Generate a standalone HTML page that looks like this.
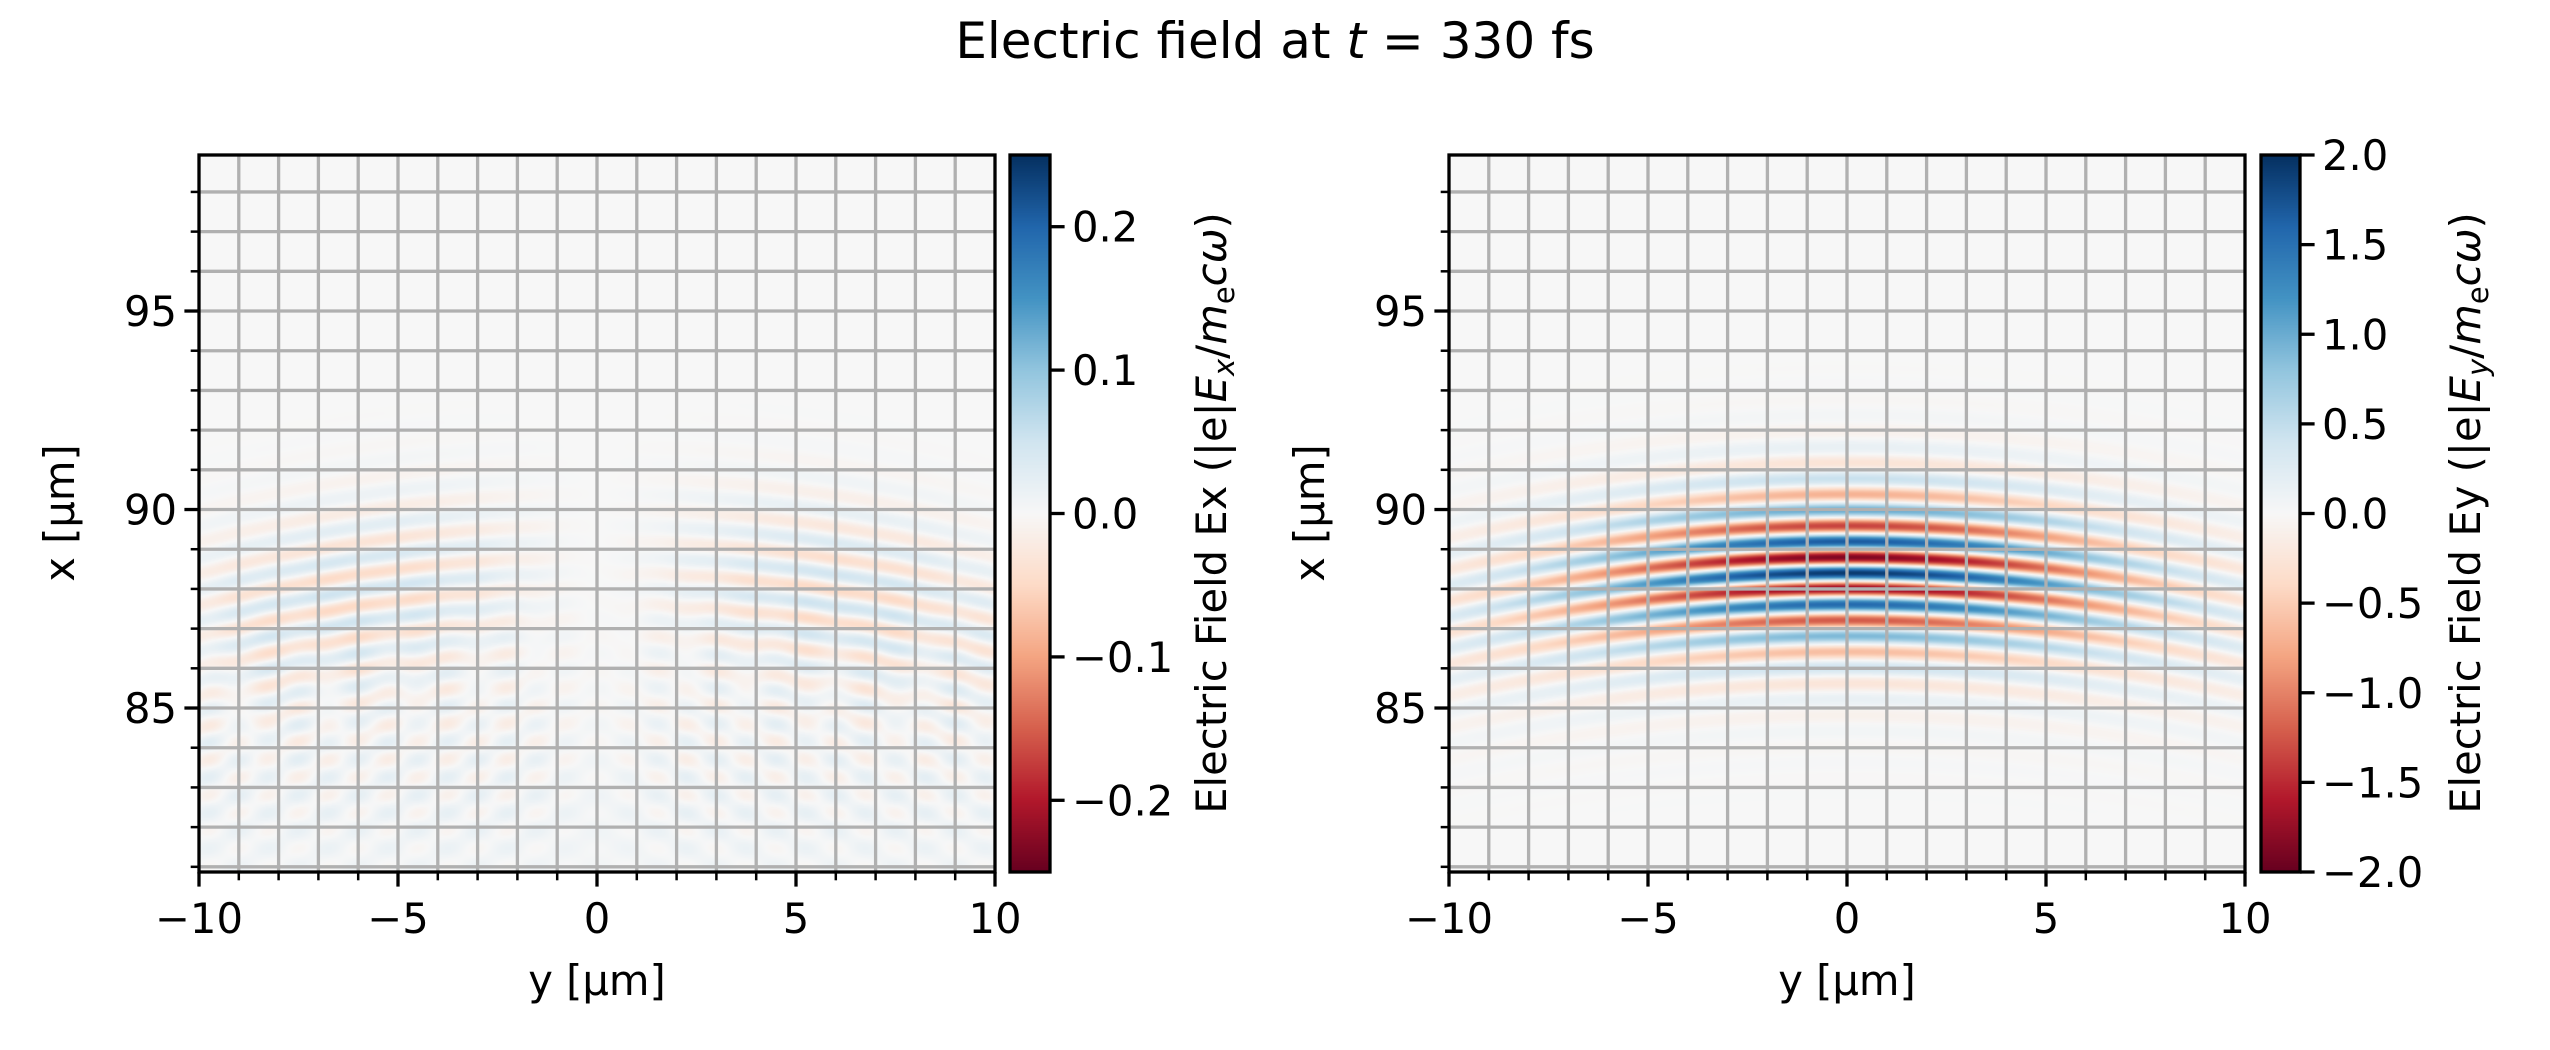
<!DOCTYPE html>
<html><head><meta charset="utf-8">
<style>
html,body{margin:0;padding:0;background:#fff;}
#wrap{position:relative;width:2550px;height:1050px;overflow:hidden;}
canvas{position:absolute;}
svg{position:absolute;left:0;top:0;}
text{font-family:"DejaVu Sans","Liberation Sans",sans-serif;fill:#000;}
</style></head><body>
<div id="wrap">
<canvas id="c1" width="796" height="717" style="left:199px;top:155px"></canvas>
<canvas id="c2" width="796" height="717" style="left:1449px;top:155px"></canvas>
<canvas id="cb1" width="40" height="717" style="left:1010px;top:155px"></canvas>
<canvas id="cb2" width="39" height="717" style="left:2261px;top:155px"></canvas>
<svg id="s" width="2550" height="1050" xmlns="http://www.w3.org/2000/svg"></svg>
</div>
<script>
var RdBu=[[103,0,31],[178,24,43],[214,96,77],[244,165,130],[253,219,199],[247,247,247],[209,229,240],[146,197,222],[67,147,195],[33,102,172],[5,48,97]];
function cmap(t){if(t<0)t=0;if(t>1)t=1;var f=t*10,i=Math.floor(f);if(i>=10)return RdBu[10];var u=f-i,a=RdBu[i],b=RdBu[i+1];return [a[0]+(b[0]-a[0])*u,a[1]+(b[1]-a[1])*u,a[2]+(b[2]-a[2])*u];}
function Y(px){return -10+px/39.8;}
function X(py){return 98.93-py/39.7;}
function Ey(x,y){var xp=x+0.011*y*y;var env=Math.exp(-Math.pow(y/6.5,2))*Math.exp(-Math.pow((xp-88.5)/1.8,2));
var tail=0.28*Math.exp(-Math.pow((xp-88.2)/2.8,2))*Math.exp(-Math.pow(y/12,2));
return (1.65*env+tail)*Math.cos(2*Math.PI*(xp-88.4)/0.8);}
function Ex(x,y){var xp=x+0.012*y*y;var s=Math.tanh(y/2.5);
var a=0.05*s*Math.exp(-Math.pow((xp-88.2)/2.3,2))*Math.exp(-Math.pow((Math.abs(y)-6)/5,2))*Math.cos(2*Math.PI*(xp-88)/0.8);
var ay=Math.abs(y);
var d=0.013*Math.exp(-Math.pow((x-84)/3,2))*(Math.cos(2*Math.PI*(x+0.6*ay)/0.9)+0.6*Math.cos(2*Math.PI*(x-0.6*ay)/0.9))*Math.min(1,ay/3+0.3);
var b=0.006*Math.exp(-Math.pow((x-82)/2,2));
return a+d+b;}
function fill(id,f,vmax){var c=document.getElementById(id),g=c.getContext('2d'),im=g.createImageData(796,717),D=im.data;
for(var j=0;j<717;j++){var x=X(j+0.5);for(var i=0;i<796;i++){var y=Y(i+0.5);var col=cmap((f(x,y)/vmax+1)/2);var k=4*(j*796+i);D[k]=col[0];D[k+1]=col[1];D[k+2]=col[2];D[k+3]=255;}}
g.putImageData(im,0,0);}
fill('c1',Ex,0.25);fill('c2',Ey,2);
function cb(id,w){var c=document.getElementById(id),g=c.getContext('2d');for(var j=0;j<717;j++){var col=cmap(1-j/716);g.fillStyle='rgb('+col.map(Math.round).join(',')+')';g.fillRect(0,j,w,1);}}
cb('cb1',40);cb('cb2',39);
var h='';
function L(x1,y1,x2,y2,c,w){h+='<line x1="'+x1+'" y1="'+y1+'" x2="'+x2+'" y2="'+y2+'" stroke="'+c+'" stroke-width="'+w+'"/>';}
function T(x,y,s,a,extra){h+='<text x="'+x+'" y="'+y+'" font-size="41.7" text-anchor="'+a+'" '+(extra||'')+'>'+s+'</text>';}
function axes(L0,cbx,cbw,lab,vmax,ticks,fmt,labx,sub){
 var T0=155,B=872,R=L0+796;
 for(var y=-9;y<=9;y++){var px=L0+(y+10)*39.8;L(px,T0,px,B,'#b0b0b0',3.3);}
 for(var x=81;x<=98;x++){var py=155+(98.93-x)*39.7;L(L0,py,R,py,'#b0b0b0',3.3);}
 for(var y=-10;y<=10;y++){var px=L0+(y+10)*39.8;var maj=(y%5==0);L(px,B,px,B+(maj?14.6:8.3),'#000',maj?3.3:2.5);
   if(maj)T(px,933,(y<0?'\u2212'+(-y):''+y),'middle');}
 for(var x=81;x<=98;x++){var py=155+(98.93-x)*39.7;var maj=(x%5==0);L(L0,py,L0-(maj?14.6:8.3),py,'#000',maj?3.3:2.5);
   if(maj)T(L0-22,py+15,''+x,'end');}
 h+='<rect x="'+L0+'" y="'+T0+'" width="796" height="717" fill="none" stroke="#000" stroke-width="3.3"/>';
 h+='<rect x="'+cbx+'" y="155" width="'+cbw+'" height="717" fill="none" stroke="#000" stroke-width="3.3"/>';
 ticks.forEach(function(v){var py=513.5-v/vmax*358.5;L(cbx+cbw,py,cbx+cbw+14.6,py,'#000',3.3);T(cbx+cbw+22,py+15,fmt(v),'start');});
 T(L0+398,995,'y [\u03bcm]','middle');
 h+='<text x="0" y="0" font-size="41.7" text-anchor="middle" transform="translate('+(L0-125)+',513) rotate(-90)">x [\u03bcm]</text>';
 h+='<text x="0" y="0" font-size="41.7" text-anchor="middle" transform="translate('+labx+',513) rotate(-90)">Electric Field '+lab+' (|e|<tspan font-style="italic">E</tspan><tspan font-size="29" dy="8" font-style="italic">'+sub+'</tspan><tspan dy="-8">/</tspan><tspan font-style="italic">m</tspan><tspan font-size="29" dy="8">e</tspan><tspan dy="-8" font-style="italic">c\u03c9</tspan>)</text>';
}
function f1(v){return (v<0?'\u2212':'')+Math.abs(v).toFixed(1);}
axes(199,1010,40,'Ex',0.25,[-0.2,-0.1,0,0.1,0.2],f1,1226,'x');
axes(1449,2261,39,'Ey',2,[-2,-1.5,-1,-0.5,0,0.5,1,1.5,2],f1,2480,'y');
h+='<text x="1275" y="58" font-size="50" text-anchor="middle">Electric field at <tspan font-style="italic">t</tspan> = 330 fs</text>';
document.getElementById('s').innerHTML=h;
</script>
</body></html>
